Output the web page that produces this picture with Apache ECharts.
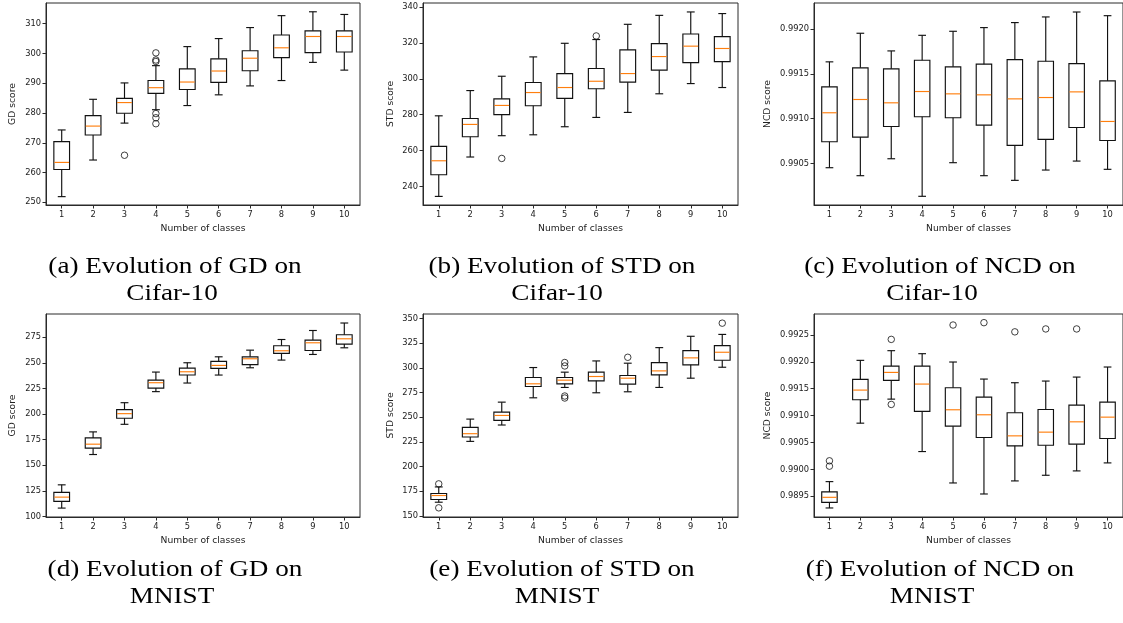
<!DOCTYPE html>
<html>
<head>
<meta charset="utf-8">
<script src="https://cdn.jsdelivr.net/npm/echarts@6/dist/echarts.min.js"></script>
<style>
html,body{margin:0;padding:0;background:#fff;}
#chart{width:1123px;height:623px;}
</style>
</head>
<body>
<div id="chart"></div>
<script>
// ---- data: each row is [lower whisker, Q1, median, Q3, upper whisker] ----
const classes = ['1','2','3','4','5','6','7','8','9','10'];

const gdCifar = [
  [251.9, 261.0, 263.4, 270.4, 274.3],
  [264.2, 272.6, 275.6, 279.1, 284.6],
  [276.6, 279.9, 283.5, 284.9, 290.1],
  [281.1, 286.6, 288.5, 290.9, 295.9],
  [282.5, 287.9, 290.4, 294.8, 302.3],
  [286.1, 290.3, 294.1, 298.2, 305.0],
  [289.1, 294.2, 298.4, 300.9, 308.7],
  [290.9, 298.6, 301.9, 306.2, 312.7],
  [297.0, 300.3, 305.7, 307.6, 314.0],
  [294.4, 300.5, 305.7, 307.6, 313.1]
];
const gdCifarOut = [[2,265.8],[3,300.2],[3,297.8],[3,297.3],[3,279.8],[3,278.4],[3,276.4]];

const stdCifar = [
  [234.4, 246.5, 254.3, 262.3, 279.4],
  [256.4, 267.7, 274.6, 277.9, 293.5],
  [268.3, 280.1, 285.2, 288.9, 301.5],
  [268.8, 285.0, 292.4, 298.0, 312.3],
  [273.3, 289.1, 295.2, 303.0, 319.9],
  [278.5, 294.5, 298.7, 305.8, 322.0],
  [281.3, 298.2, 303.0, 316.2, 330.5],
  [291.7, 304.9, 312.5, 319.7, 335.5],
  [297.4, 309.1, 318.3, 325.1, 337.4],
  [295.2, 309.7, 317.0, 323.6, 336.5]
];
const stdCifarOut = [[2,255.6],[5,324.0]];

const ncdCifar = [
  [0.990452, 0.990742, 0.991065, 0.991354, 0.991633],
  [0.990363, 0.990794, 0.991213, 0.991566, 0.991952],
  [0.990552, 0.990912, 0.991176, 0.991555, 0.991755],
  [0.990133, 0.991020, 0.991302, 0.991651, 0.991929],
  [0.990508, 0.991009, 0.991276, 0.991577, 0.991974],
  [0.990363, 0.990927, 0.991265, 0.991607, 0.992015],
  [0.990311, 0.990701, 0.991220, 0.991658, 0.992071],
  [0.990426, 0.990768, 0.991235, 0.991640, 0.992134],
  [0.990526, 0.990901, 0.991298, 0.991614, 0.992189],
  [0.990434, 0.990756, 0.990968, 0.991421, 0.992148]
];
const ncdCifarOut = [];

const gdMnist = [
  [108.1, 114.6, 118.8, 123.4, 130.8],
  [160.4, 166.6, 170.5, 176.6, 182.5],
  [189.9, 195.8, 200.3, 204.2, 211.0],
  [221.8, 225.3, 230.5, 233.1, 240.9],
  [230.2, 238.0, 241.2, 244.8, 250.0],
  [238.0, 244.5, 247.4, 251.3, 255.8],
  [245.1, 248.1, 253.9, 255.8, 262.3],
  [252.6, 259.1, 261.7, 266.6, 272.7],
  [258.1, 262.0, 269.5, 272.1, 281.5],
  [264.6, 268.2, 273.4, 277.3, 288.8]
];
const gdMnistOut = [];

const stdMnist = [
  [163.8, 166.5, 170.6, 172.6, 179.3],
  [225.5, 229.9, 233.3, 239.7, 248.1],
  [242.1, 246.8, 251.8, 255.2, 265.3],
  [269.7, 281.2, 283.9, 290.3, 300.4],
  [280.2, 283.9, 287.6, 290.3, 295.7],
  [274.8, 286.9, 291.3, 295.7, 307.1],
  [275.8, 283.5, 289.6, 292.3, 304.8],
  [280.2, 293.0, 297.0, 305.4, 320.6],
  [289.6, 303.1, 310.2, 317.6, 332.1],
  [300.7, 307.8, 315.9, 322.6, 334.0]
];
const stdMnistOut = [[0,182.4],[0,158.1],[4,305.5],[4,302.0],[4,271.5],[4,269.5],[6,310.8],[9,345.4]];

const ncdMnist = [
  [0.989283, 0.989388, 0.989481, 0.989581, 0.989773],
  [0.990860, 0.991295, 0.991475, 0.991674, 0.992028],
  [0.991307, 0.991655, 0.991804, 0.991922, 0.992208],
  [0.990332, 0.991078, 0.991587, 0.991922, 0.992152],
  [0.989748, 0.990804, 0.991109, 0.991519, 0.991997],
  [0.989543, 0.990593, 0.991016, 0.991345, 0.991680],
  [0.989786, 0.990438, 0.990624, 0.991053, 0.991612],
  [0.989891, 0.990450, 0.990693, 0.991115, 0.991643],
  [0.989972, 0.990469, 0.990885, 0.991196, 0.991717],
  [0.990121, 0.990575, 0.990972, 0.991252, 0.991904]
];
const ncdMnistOut = [[0,0.990160],[0,0.990060],[2,0.992418],[2,0.991208],[4,0.992685],[5,0.992729],[6,0.992558],[7,0.992612],[8,0.992612]];

// tick labels
const gdCifarTicks = [250,260,270,280,290,300,310];
const stdCifarTicks = [240,260,280,300,320,340];
const ncdCifarTicks = [0.9905,0.9910,0.9915,0.9920];
const gdMnistTicks = [100,125,150,175,200,225,250,275];
const stdMnistTicks = [150,175,200,225,250,275,300,325,350];
const ncdMnistTicks = [0.9895,0.9900,0.9905,0.9910,0.9915,0.9920,0.9925];

const yNames = ['GD score','STD score','NCD score','GD score','STD score','NCD score'];
const captions = [
  ['(a) Evolution of GD on','Cifar-10'],
  ['(b) Evolution of STD on','Cifar-10'],
  ['(c) Evolution of NCD on','Cifar-10'],
  ['(d) Evolution of GD on','MNIST'],
  ['(e) Evolution of STD on','MNIST'],
  ['(f) Evolution of NCD on','MNIST']
];

// ---- layout ----
const panels = [
  {box: gdCifar,  out: gdCifarOut,  ticks: gdCifarTicks,  min: 249.09, max: 316.95, dec: 0, grid:{left:46, top:3, width:314, height:202}, gap:29},
  {box: stdCifar, out: stdCifarOut, ticks: stdCifarTicks, min: 229.6, max: 342.4, dec: 0, grid:{left:423, top:3, width:315, height:202}, gap:28},
  {box: ncdCifar, out: ncdCifarOut, ticks: ncdCifarTicks, min: 0.990036, max: 0.9922895, dec: 4, grid:{left:814, top:3, width:314, height:202}, gap:42},
  {box: gdMnist,  out: gdMnistOut,  ticks: gdMnistTicks,  min: 99.4, max: 297.6, dec: 0, grid:{left:46, top:314, width:314, height:203}, gap:29},
  {box: stdMnist, out: stdMnistOut, ticks: stdMnistTicks, min: 148.8, max: 354.7, dec: 0, grid:{left:423, top:314, width:315, height:203}, gap:28},
  {box: ncdMnist, out: ncdMnistOut, ticks: ncdMnistTicks, min: 0.989115, max: 0.99289, dec: 4, grid:{left:814, top:314, width:314, height:203}, gap:42}
];
const capPos = [
  {x1:175, x2:172, y1:266.5, y2:294},
  {x1:562, x2:557, y1:266.5, y2:294},
  {x1:940, x2:932, y1:266.5, y2:294},
  {x1:175, x2:172, y1:570, y2:596.5},
  {x1:562, x2:557, y1:570, y2:596.5},
  {x1:940, x2:932, y1:570, y2:596.5}
];

const INK = '#111';
const SPINE = '#2a2a2a';
const MEDIAN = '#ff7f0e';
const LW = 1.15;

function renderBox(params, api) {
  const i = api.value(0);
  const lo = api.coord([i, api.value(1)]);
  const q1 = api.coord([i, api.value(2)]);
  const md = api.coord([i, api.value(3)]);
  const q3 = api.coord([i, api.value(4)]);
  const hi = api.coord([i, api.value(5)]);
  const band = api.size([1, 0])[0];
  const hw = band * 0.25;
  const cw = band * 0.125;
  const cx = lo[0];
  const st = {stroke: INK, lineWidth: LW, fill: null};
  return {
    type: 'group',
    children: [
      {type:'line', shape:{x1:cx, y1:hi[1], x2:cx, y2:q3[1]}, style: st},
      {type:'line', shape:{x1:cx, y1:q1[1], x2:cx, y2:lo[1]}, style: st},
      {type:'line', shape:{x1:cx-cw, y1:hi[1], x2:cx+cw, y2:hi[1]}, style: st},
      {type:'line', shape:{x1:cx-cw, y1:lo[1], x2:cx+cw, y2:lo[1]}, style: st},
      {type:'rect', shape:{x:cx-hw, y:q3[1], width:2*hw, height:q1[1]-q3[1]}, style: {stroke: INK, lineWidth: LW, fill: 'rgba(0,0,0,0)'}},
      {type:'line', shape:{x1:cx-hw+0.5, y1:md[1], x2:cx+hw-0.5, y2:md[1]}, style: {stroke: MEDIAN, lineWidth: LW}}
    ]
  };
}

const grids = [], xAxes = [], yAxes = [], series = [], graphics = [];
panels.forEach((p, k) => {
  grids.push(Object.assign({show: true, borderColor: SPINE, borderWidth: 1, backgroundColor: 'transparent', containLabel: false}, p.grid));
  xAxes.push({
    type: 'category', gridIndex: k, data: classes, boundaryGap: true,
    axisLine: {show: true, lineStyle: {color: SPINE, width: 1}},
    axisTick: {show: true, alignWithLabel: true, length: 3.5, lineStyle: {color: SPINE, width: 1}},
    axisLabel: {fontFamily: 'DejaVu Sans', fontSize: 8.3, color: '#222', margin: 6},
    splitLine: {show: false},
    name: 'Number of classes', nameLocation: 'middle', nameGap: 19,
    nameTextStyle: {fontFamily: 'DejaVu Sans', fontSize: 9.2, color: '#222'}
  });
  yAxes.push({
    type: 'value', gridIndex: k, min: p.min, max: p.max,
    axisLine: {show: true, lineStyle: {color: SPINE, width: 1}},
    axisTick: {show: true, length: 3.5, lineStyle: {color: SPINE, width: 1}, customValues: p.ticks},
    axisLabel: {fontFamily: 'DejaVu Sans', fontSize: 8.3, color: '#222', margin: 5,
      customValues: p.ticks, formatter: (v) => Number(v).toFixed(p.dec), showMinLabel: true, showMaxLabel: true},
    splitLine: {show: false},
    name: yNames[k], nameLocation: 'middle', nameGap: p.gap, nameRotate: 90,
    nameTextStyle: {fontFamily: 'DejaVu Sans', fontSize: 9.2, color: '#222'}
  });
  series.push({
    type: 'custom', xAxisIndex: k, yAxisIndex: k,
    renderItem: renderBox,
    encode: {x: 0, y: [1, 2, 3, 4, 5]},
    data: p.box.map((r, i) => [i].concat(r)),
    silent: true, z: 2
  });
  series.push({
    type: 'scatter', xAxisIndex: k, yAxisIndex: k,
    data: p.out, symbol: 'circle', symbolSize: 6.5,
    itemStyle: {color: 'rgba(0,0,0,0)', borderColor: INK, borderWidth: 1},
    silent: true, z: 3
  });
  const cp = capPos[k];
  graphics.push({
    type: 'text', x: cp.x1, y: cp.y1, scaleX: 1.18,
    style: {text: captions[k][0], fontFamily: 'Liberation Serif', fontSize: 23, fill: '#000', align: 'center', verticalAlign: 'middle'}
  });
  graphics.push({
    type: 'text', x: cp.x2, y: cp.y2, scaleX: 1.18,
    style: {text: captions[k][1], fontFamily: 'Liberation Serif', fontSize: 23, fill: '#000', align: 'center', verticalAlign: 'middle'}
  });
});

const chart = echarts.init(document.getElementById('chart'), null, {renderer: 'canvas'});
chart.setOption({
  animation: false,
  backgroundColor: '#fff',
  grid: grids,
  xAxis: xAxes,
  yAxis: yAxes,
  series: series,
  graphic: graphics
});
</script>
</body>
</html>
